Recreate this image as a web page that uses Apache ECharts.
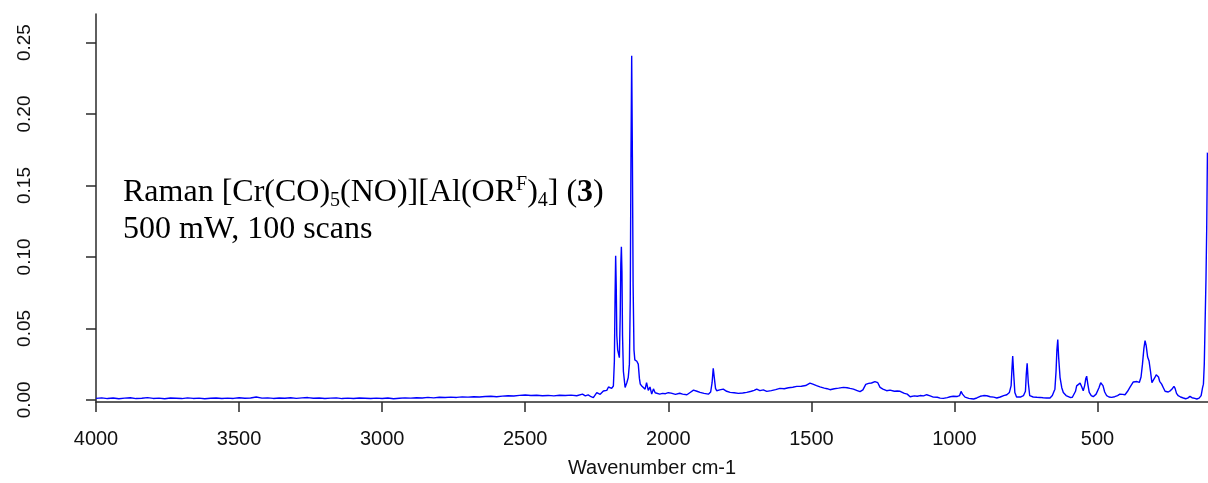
<!DOCTYPE html>
<html>
<head>
<meta charset="utf-8">
<script src="https://cdn.jsdelivr.net/npm/echarts@6/dist/echarts.min.js"></script>
<style>
  html, body { margin: 0; padding: 0; background: #fff; }
  #chart { width: 1208px; height: 483px; }
</style>
</head>
<body>
<div id="chart"></div>
<script>
// Raman spectrum of [Cr(CO)5(NO)][Al(OR^F)4] (3): wavenumber (cm-1) vs. intensity
const wavenumbers = [
  4000, 3980, 3960, 3940, 3920, 3900, 3880, 3860, 3840, 3820,
  3800, 3780, 3760, 3740, 3720, 3700, 3680, 3660, 3640, 3620,
  3600, 3580, 3560, 3540, 3520, 3500, 3480, 3460, 3440, 3420,
  3400, 3380, 3360, 3340, 3320, 3300, 3280, 3260, 3240, 3220,
  3200, 3180, 3160, 3140, 3120, 3100, 3080, 3060, 3040, 3020,
  3000, 2980, 2960, 2940, 2920, 2900, 2880, 2860, 2840, 2820,
  2800, 2780, 2760, 2740, 2720, 2700, 2680, 2660, 2640, 2620,
  2600, 2580, 2560, 2540, 2520, 2500, 2480, 2460, 2440, 2420,
  2400, 2380, 2360, 2340, 2320, 2300, 2290, 2280, 2270, 2262,
  2250, 2238, 2227, 2215, 2209, 2198, 2192, 2188.5, 2186, 2184,
  2182, 2180, 2177, 2174, 2171, 2168, 2166, 2164, 2162, 2160,
  2157, 2151, 2145, 2140, 2136, 2133, 2130.5, 2128, 2125.5, 2123,
  2120, 2117, 2113, 2110, 2105, 2101, 2098, 2092, 2087, 2081,
  2076, 2070, 2064, 2058, 2052, 2046, 2040, 2030, 2020, 2010,
  2000, 1990, 1975, 1960, 1950, 1935, 1925, 1912, 1900, 1889,
  1875, 1860, 1852, 1847, 1843, 1839, 1835, 1831, 1820, 1808,
  1796, 1784, 1770, 1755, 1740, 1726, 1710, 1700, 1691, 1680,
  1668, 1656, 1640, 1625, 1610, 1595, 1580, 1565, 1551, 1535,
  1520, 1505, 1495, 1482, 1470, 1455, 1445, 1435, 1420, 1405,
  1388, 1375, 1365, 1353, 1340, 1330, 1320, 1310, 1300, 1290,
  1278, 1268, 1260, 1250, 1237, 1225, 1210, 1200, 1190, 1175,
  1165, 1155, 1140, 1130, 1120, 1108, 1097, 1085, 1074, 1060,
  1050, 1039, 1025, 1015, 1004, 990, 982, 977, 972, 963,
  950, 940, 933, 922, 910, 898, 887, 875, 863, 852,
  840, 828, 817, 808, 802, 799, 796.5, 793, 789, 783,
  777, 768, 759, 752, 749, 746, 742, 737, 725, 712,
  701, 690, 678, 666, 658, 652, 649, 645, 642, 639,
  636, 631, 625, 619.6, 610, 596, 588, 582, 577, 573,
  568, 561, 555, 550, 545, 541, 538, 534, 529, 522,
  515, 505, 495, 489, 486, 481, 475, 468, 460, 451,
  440, 430, 422, 412, 404, 395, 387, 381, 375, 369.5,
  362, 354, 348, 343, 338, 334, 330, 325, 320, 315,
  310, 305, 300, 295, 291, 287, 283, 276, 270, 264,
  258, 253, 245, 238, 233, 229, 224, 218, 210, 200,
  192, 185, 177, 170, 160, 153, 145, 138, 133, 130,
  127, 124.5, 121, 118.5, 116
];

const intensities = [
  0.0010, 0.0014, 0.0009, 0.0013, 0.0008, 0.0012, 0.0015, 0.0009, 0.0011, 0.0016,
  0.0010, 0.0012, 0.0008, 0.0013, 0.0011, 0.0009, 0.0014, 0.0010, 0.0012, 0.0008,
  0.0011, 0.0013, 0.0009, 0.0012, 0.0010, 0.0015, 0.0011, 0.0013, 0.0020, 0.0012,
  0.0014, 0.0010, 0.0013, 0.0011, 0.0015, 0.0010, 0.0014, 0.0016, 0.0011, 0.0013,
  0.0010, 0.0012, 0.0014, 0.0009, 0.0012, 0.0010, 0.0013, 0.0011, 0.0009, 0.0012,
  0.0010, 0.0013, 0.0008, 0.0011, 0.0014, 0.0012, 0.0015, 0.0013, 0.0017, 0.0014,
  0.0018, 0.0016, 0.0019, 0.0017, 0.0021, 0.0019, 0.0022, 0.0020, 0.0023, 0.0025,
  0.0022, 0.0026, 0.0029, 0.0027, 0.0031, 0.0034, 0.0030, 0.0032, 0.0029, 0.0031,
  0.0028, 0.0032, 0.0030, 0.0033, 0.0029, 0.0040, 0.0028, 0.0035, 0.0022, 0.0016,
  0.0050, 0.0039, 0.0062, 0.0066, 0.0090, 0.0080, 0.0097, 0.0270, 0.0730, 0.1008,
  0.0800, 0.0450, 0.0350, 0.0360, 0.0295, 0.0600, 0.0950, 0.1071, 0.0900, 0.0450,
  0.0200, 0.0087, 0.0120, 0.0156, 0.0250, 0.0700, 0.1700, 0.2407, 0.1700, 0.0800,
  0.0350, 0.0280, 0.0290, 0.0270, 0.0250, 0.0150, 0.0110, 0.0095, 0.0100, 0.0075,
  0.0120, 0.0066, 0.0090, 0.0040, 0.0077, 0.0050, 0.0045, 0.0040, 0.0045, 0.0043,
  0.0050, 0.0047, 0.0038, 0.0046, 0.0040, 0.0036, 0.0050, 0.0068, 0.0060, 0.0052,
  0.0045, 0.0040, 0.0055, 0.0120, 0.0221, 0.0150, 0.0080, 0.0064, 0.0070, 0.0075,
  0.0060, 0.0052, 0.0050, 0.0045, 0.0048, 0.0052, 0.0060, 0.0066, 0.0075, 0.0065,
  0.0070, 0.0059, 0.0065, 0.0072, 0.0080, 0.0078, 0.0085, 0.0088, 0.0094, 0.0095,
  0.0100, 0.0117, 0.0110, 0.0100, 0.0091, 0.0082, 0.0078, 0.0071, 0.0078, 0.0082,
  0.0087, 0.0085, 0.0080, 0.0075, 0.0065, 0.0057, 0.0070, 0.0108, 0.0115, 0.0118,
  0.0128, 0.0120, 0.0087, 0.0075, 0.0064, 0.0068, 0.0060, 0.0062, 0.0060, 0.0045,
  0.0040, 0.0022, 0.0028, 0.0025, 0.0030, 0.0028, 0.0036, 0.0028, 0.0019, 0.0018,
  0.0012, 0.0010, 0.0016, 0.0022, 0.0025, 0.0024, 0.0030, 0.0059, 0.0040, 0.0019,
  0.0010, 0.0008, 0.0006, 0.0013, 0.0025, 0.0030, 0.0029, 0.0022, 0.0019, 0.0013,
  0.0020, 0.0030, 0.0036, 0.0052, 0.0100, 0.0220, 0.0307, 0.0180, 0.0052, 0.0020,
  0.0013, 0.0020, 0.0029, 0.0060, 0.0180, 0.0256, 0.0120, 0.0029, 0.0020, 0.0018,
  0.0017, 0.0015, 0.0013, 0.0013, 0.0030, 0.0060, 0.0075, 0.0200, 0.0350, 0.0422,
  0.0300, 0.0156, 0.0085, 0.0052, 0.0030, 0.0017, 0.0018, 0.0022, 0.0060, 0.0098,
  0.0105, 0.0117, 0.0090, 0.0064, 0.0100, 0.0150, 0.0166, 0.0110, 0.0052, 0.0030,
  0.0022, 0.0040, 0.0085, 0.0120, 0.0128, 0.0100, 0.0055, 0.0029, 0.0020, 0.0017,
  0.0022, 0.0030, 0.0040, 0.0038, 0.0036, 0.0060, 0.0087, 0.0098, 0.0125, 0.0133,
  0.0128, 0.0122, 0.0160, 0.0250, 0.0360, 0.0415, 0.0380, 0.0300, 0.0272, 0.0200,
  0.0120, 0.0130, 0.0155, 0.0175, 0.0184, 0.0160, 0.0130, 0.0110, 0.0085, 0.0060,
  0.0052, 0.0055, 0.0065, 0.0080, 0.0095, 0.0080, 0.0045, 0.0029, 0.0020, 0.0013,
  0.0008, 0.0012, 0.0024, 0.0015, 0.0010, 0.0006, 0.0012, 0.0030, 0.0085, 0.0110,
  0.0250, 0.0500, 0.0850, 0.1200, 0.1730
];

const xTicks = [4000, 3500, 3000, 2500, 2000, 1500, 1000, 500];
const yTicks = [0, 0.05, 0.10, 0.15, 0.20, 0.25];

const spectrum = wavenumbers.map((w, i) => [w, intensities[i]]);

const chart = echarts.init(document.getElementById('chart'), null, { renderer: 'canvas' });

const axisColor = '#2a2a2a';
const sansFont = '"Liberation Sans", Arial, sans-serif';
const serifFont = '"Liberation Serif", "Times New Roman", serif';

chart.setOption({
  animation: false,
  backgroundColor: '#ffffff',
  grid: { left: 96, right: 0, top: 14, bottom: 78.5, containLabel: false },
  xAxis: {
    type: 'value',
    inverse: true,
    min: 114,
    max: 4000,
    name: 'Wavenumber cm-1',
    nameLocation: 'middle',
    nameGap: 56,
    nameTextStyle: { fontFamily: sansFont, fontSize: 20, color: '#111' },
    axisLine: { show: true, onZero: false, lineStyle: { color: axisColor, width: 1.5 } },
    axisTick: { show: true, length: 10, inside: false, customValues: xTicks, lineStyle: { color: axisColor, width: 1.5 } },
    axisLabel: {
      customValues: xTicks,
      margin: 27,
      fontFamily: sansFont,
      fontSize: 20,
      color: '#111',
      formatter: v => String(v)
    },
    splitLine: { show: false }
  },
  yAxis: {
    type: 'value',
    min: -0.0015,
    max: 0.27,
    axisLine: { show: true, onZero: false, lineStyle: { color: axisColor, width: 1.5 } },
    axisTick: { show: true, length: 10, inside: false, customValues: yTicks, lineStyle: { color: axisColor, width: 1.5 } },
    axisLabel: {
      customValues: yTicks,
      rotate: 90,
      margin: 62,
      fontFamily: sansFont,
      fontSize: 19,
      color: '#111',
      formatter: v => v.toFixed(2)
    },
    splitLine: { show: false }
  },
  series: [{
    type: 'line',
    data: spectrum,
    showSymbol: false,
    symbol: 'none',
    smooth: false,
    clip: true,
    lineStyle: { color: '#0000ff', width: 1.4 },
    emphasis: { disabled: true }
  }],
  graphic: [
    {
      type: 'text',
      left: 123,
      top: 175,
      style: {
        text: '{n|Raman [Cr(CO)}{sub|5}{n|(NO)][Al(OR}{sup|F}{n|)}{sub|4}{n|] (}{b|3}{n|)}',
        rich: {
          n: { fontFamily: serifFont, fontSize: 32, lineHeight: 36, fill: '#000' },
          b: { fontFamily: serifFont, fontSize: 32, lineHeight: 36, fontWeight: 'bold', fill: '#000' },
          sub: { fontFamily: serifFont, fontSize: 20, lineHeight: 22, verticalAlign: 'bottom', fill: '#000' },
          sup: { fontFamily: serifFont, fontSize: 20, lineHeight: 32, verticalAlign: 'top', fill: '#000' }
        }
      }
    },
    {
      type: 'text',
      left: 123,
      top: 214,
      style: {
        text: '{n|500 mW, 100 scans}',
        rich: {
          n: { fontFamily: serifFont, fontSize: 32, lineHeight: 36, fill: '#000' }
        }
      }
    }
  ]
});
</script>
</body>
</html>
